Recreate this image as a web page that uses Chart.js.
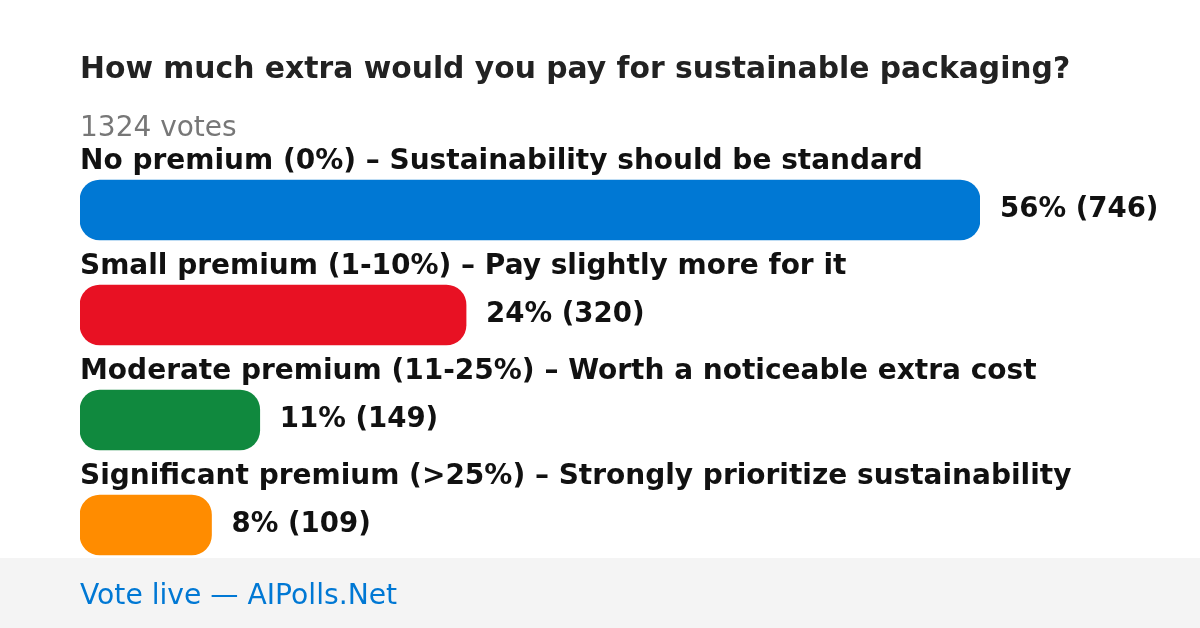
<!DOCTYPE html>
<html>
<head>
<meta charset="utf-8">
<script src="https://cdn.jsdelivr.net/npm/chart.js@4/dist/chart.umd.min.js"></script>
<style>
  html, body { margin: 0; padding: 0; background: #fff; }
  #wrap { width: 1200px; height: 628px; position: relative; }
</style>
</head>
<body>
<div id="wrap"><canvas id="poll"></canvas></div>
<script>
// данные опроса
const title = 'How much extra would you pay for sustainable packaging?';
const totalVotes = 1324;
const options = [
  'No premium (0%) – Sustainability should be standard',
  'Small premium (1-10%) – Pay slightly more for it',
  'Moderate premium (11-25%) – Worth a noticeable extra cost',
  'Significant premium (>25%) – Strongly prioritize sustainability',
];
const votes = [746, 320, 149, 109];
const percents = [56, 24, 11, 8];
const colors = ['#0078d4', '#e81123', '#10893e', '#ff8c00'];
const footerText = 'Vote live — AIPolls.Net';

const FONT = "'DejaVu Sans', sans-serif";

// Заголовок, подписи и подвал рисуем плагином
const pollText = {
  id: 'pollText',
  beforeDraw(chart) {
    const { ctx } = chart;
    ctx.save();
    ctx.fillStyle = '#f4f4f4';
    ctx.fillRect(0, 558, chart.width, chart.height - 558);
    ctx.textBaseline = 'alphabetic';
    ctx.textAlign = 'left';
    ctx.fillStyle = '#222';
    ctx.font = `bold 29.8px ${FONT}`;
    ctx.fillText(title, 80, 78);
    ctx.fillStyle = '#777';
    ctx.font = `28px ${FONT}`;
    ctx.fillText(`${totalVotes} votes`, 80, 136);
    ctx.fillStyle = '#0078d4';
    ctx.font = `28.2px ${FONT}`;
    ctx.fillText(footerText, 80, 604);
    ctx.restore();
  },
  afterDatasetsDraw(chart) {
    const { ctx } = chart;
    const meta = chart.getDatasetMeta(0);
    ctx.save();
    ctx.fillStyle = '#111';
    ctx.textAlign = 'left';
    meta.data.forEach((bar, i) => {
      const top = bar.y - bar.height / 2;
      ctx.font = `bold 28px ${FONT}`;
      ctx.textBaseline = 'alphabetic';
      ctx.fillText(options[i], 80, top - 11);
      ctx.font = `bold 27.6px ${FONT}`;
      ctx.textBaseline = 'middle';
      ctx.fillText(`${percents[i]}% (${votes[i]})`, bar.x + 20, bar.y);
    });
    ctx.restore();
  },
};

new Chart(document.getElementById('poll'), {
  type: 'bar',
  data: {
    labels: options,
    datasets: [{
      data: votes,
      backgroundColor: colors,
      borderRadius: 20,
      borderSkipped: false,
      barThickness: 60,
    }],
  },
  options: {
    indexAxis: 'y',
    responsive: true,
    maintainAspectRatio: false,
    animation: false,
    layout: { padding: { left: 80, right: 220, top: 157.5, bottom: 50.5 } },
    plugins: { legend: { display: false }, tooltip: { enabled: false } },
    scales: {
      x: { display: false, min: 0, max: 746 },
      y: { display: false },
    },
  },
  plugins: [pollText],
});
</script>
</body>
</html>
